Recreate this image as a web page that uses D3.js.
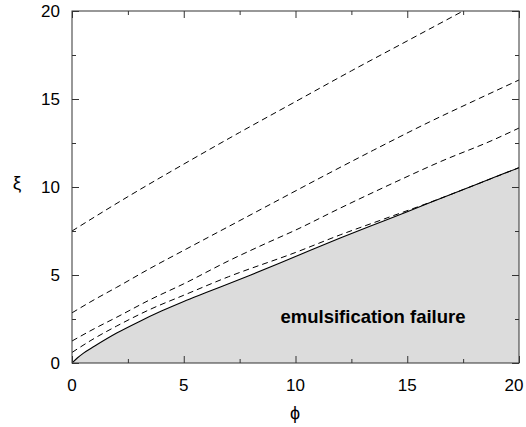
<!DOCTYPE html>
<html>
<head>
<meta charset="utf-8">
<script src="https://cdn.jsdelivr.net/npm/d3@7"></script>
<style>
  body { margin: 0; background: #fff; }
  svg { font-family: "Liberation Sans", Arial, sans-serif; }
</style>
</head>
<body>
<script>
// boundary (solid) and the four dashed curves
var phiBound = [0, 0.25, 0.5, 1, 2, 3, 4, 5, 6, 8, 10, 12, 14, 16, 18, 20];
var xiBound  = [0, 0.3, 0.55, 0.95, 1.7, 2.35, 2.95, 3.5, 4.0, 5.0, 6.05, 7.1, 8.1, 9.1, 10.1, 11.1];

var phiA = [0, 2.5, 5, 7.5, 10, 12.5, 15, 17.5];
var xiA  = [7.5, 9.45, 11.3, 13.1, 14.85, 16.6, 18.3, 20];

var phiB = [0, 1, 2, 3.5, 5, 7, 9, 11, 13.5, 16, 18, 20];
var xiB  = [2.85, 3.6, 4.3, 5.38, 6.4, 7.75, 9.1, 10.45, 12.1, 13.7, 14.9, 16.08];

var phiC = [0, 1, 2, 3.5, 5, 7, 8.86, 10, 12, 14.5, 16.5, 18.84, 20];
var xiC  = [1.25, 1.95, 2.6, 3.6, 4.5, 5.8, 6.9, 7.55, 8.8, 10.3, 11.45, 12.67, 13.35];

var phiD = [0, 1, 2, 3.5, 5, 7, 10, 12, 14, 16, 18, 20];
var xiD  = [0.6, 1.4, 2.1, 3.05, 3.85, 4.9, 6.28, 7.28, 8.2, 9.12, 10.1, 11.1];

var xTicks = [0, 5, 10, 15, 20];
var yTicks = [0, 5, 10, 15, 20];
var minorTicks = [2.5, 7.5, 12.5, 17.5];

var W = 526, H = 427;
var pl = 72, pr = 519, pt = 11, pb = 363;

var svg = d3.select("body").append("svg")
    .attr("width", W)
    .attr("height", H);

var x = d3.scaleLinear().domain([0, 20]).range([pl, pr]);
var y = d3.scaleLinear().domain([0, 20]).range([pb, pt]);

svg.append("clipPath").attr("id", "clip")
  .append("rect")
    .attr("x", pl).attr("y", pt)
    .attr("width", pr - pl).attr("height", pb - pt);

var bound = d3.zip(phiBound, xiBound);

// shaded region below the boundary
svg.append("path")
    .datum(bound)
    .attr("clip-path", "url(#clip)")
    .attr("fill", "#dcdcdc")
    .attr("d", d3.area()
      .x(function(d) { return x(d[0]); })
      .y0(y(0))
      .y1(function(d) { return y(d[1]); })
      .curve(d3.curveMonotoneX));

var line = d3.line()
    .x(function(d) { return x(d[0]); })
    .y(function(d) { return y(d[1]); })
    .curve(d3.curveMonotoneX);

[[phiA, xiA], [phiB, xiB], [phiC, xiC], [phiD, xiD]].forEach(function(s) {
  svg.append("path")
      .datum(d3.zip(s[0], s[1]))
      .attr("clip-path", "url(#clip)")
      .attr("fill", "none")
      .attr("stroke", "#000")
      .attr("stroke-width", 1)
      .attr("stroke-dasharray", "6,4")
      .attr("d", line);
});

svg.append("path")
    .datum(bound)
    .attr("clip-path", "url(#clip)")
    .attr("fill", "none")
    .attr("stroke", "#000")
    .attr("stroke-width", 1.1)
    .attr("d", line);

// frame
svg.append("rect")
    .attr("x", pl).attr("y", pt)
    .attr("width", pr - pl).attr("height", pb - pt)
    .attr("fill", "none")
    .attr("stroke", "#333")
    .attr("stroke-width", 1);

// ticks on all four sides, pointing inward
var axB = d3.axisBottom(x).tickValues(xTicks).tickSize(-7).tickFormat("");
var axT = d3.axisTop(x).tickValues(xTicks).tickSize(-7).tickFormat("");
var axL = d3.axisLeft(y).tickValues(yTicks).tickSize(-7).tickFormat("");
var axR = d3.axisRight(y).tickValues(yTicks).tickSize(-7).tickFormat("");
var mB = d3.axisBottom(x).tickValues(minorTicks).tickSize(-4).tickFormat("");
var mT = d3.axisTop(x).tickValues(minorTicks).tickSize(-4).tickFormat("");
var mL = d3.axisLeft(y).tickValues(minorTicks).tickSize(-4).tickFormat("");
var mR = d3.axisRight(y).tickValues(minorTicks).tickSize(-4).tickFormat("");

function put(ax, tx, ty) {
  var g = svg.append("g").attr("transform", "translate(" + tx + "," + ty + ")").call(ax);
  g.select(".domain").remove();
  g.selectAll("line").attr("stroke", "#333");
}
put(axB, 0, pb); put(mB, 0, pb);
put(axT, 0, pt); put(mT, 0, pt);
put(axL, pl, 0); put(mL, pl, 0);
put(axR, pr, 0); put(mR, pr, 0);

// tick labels (the last one is pushed in so it stays on the page)
svg.selectAll(".xl").data(xTicks).enter().append("text")
    .attr("x", function(d) { return Math.min(x(d), W - 12); })
    .attr("y", 391)
    .attr("text-anchor", "middle")
    .attr("font-size", 17)
    .text(function(d) { return d; });

svg.selectAll(".yl").data(yTicks).enter().append("text")
    .attr("x", 60)
    .attr("y", function(d) { return y(d) + 6; })
    .attr("text-anchor", "end")
    .attr("font-size", 17)
    .text(function(d) { return d; });

svg.append("text")
    .attr("x", 295).attr("y", 419)
    .attr("text-anchor", "middle")
    .attr("font-size", 18)
    .text("ϕ");

svg.append("text")
    .attr("x", 17).attr("y", 189)
    .attr("text-anchor", "middle")
    .attr("font-size", 19)
    .text("ξ");

svg.append("text")
    .attr("x", 373).attr("y", 323)
    .attr("text-anchor", "middle")
    .attr("font-size", 18.5)
    .attr("font-weight", "bold")
    .text("emulsification failure");
</script>
</body>
</html>
